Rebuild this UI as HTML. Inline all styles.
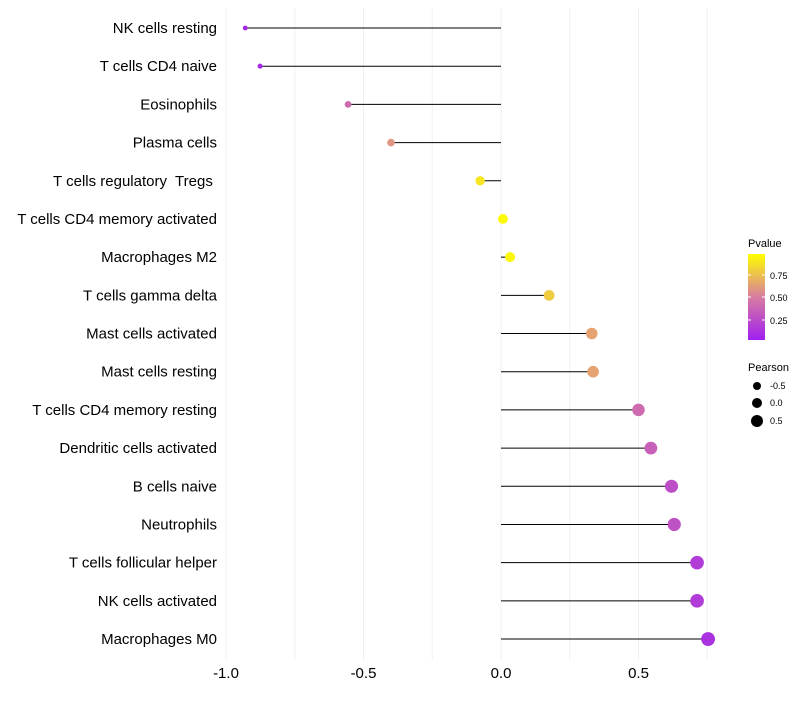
<!DOCTYPE html>
<html><head><meta charset="utf-8"><style>
body{margin:0;background:#fff;font-family:"Liberation Sans",sans-serif}
text{white-space:pre}
</style></head><body>
<svg id="chart" width="800" height="700" xmlns="http://www.w3.org/2000/svg">
<defs><linearGradient id="pg" x1="0" y1="1" x2="0" y2="0">
<stop offset="0" stop-color="#a020f0"/><stop offset="0.5" stop-color="#d87ca0"/><stop offset="1" stop-color="#ffff00"/></linearGradient></defs>
<g id="grid"></g><g id="marks"></g><g id="labels"></g>
<g font-size="10" fill="#000">
<text x="748" y="247" font-size="11">Pvalue</text>
<rect x="748" y="254" width="17" height="86" fill="url(#pg)"/>
<line x1="748" y1="275" x2="751" y2="275" stroke="#fff"/><line x1="762" y1="275" x2="765" y2="275" stroke="#fff"/>
<line x1="748" y1="297" x2="751" y2="297" stroke="#fff"/><line x1="762" y1="297" x2="765" y2="297" stroke="#fff"/>
<line x1="748" y1="320" x2="751" y2="320" stroke="#fff"/><line x1="762" y1="320" x2="765" y2="320" stroke="#fff"/>
<text x="770" y="279" font-size="9">0.75</text><text x="770" y="301" font-size="9">0.50</text><text x="770" y="324" font-size="9">0.25</text>
</g>
<g fill="#000">
<text x="748" y="371" font-size="11">Pearson</text>
<circle cx="757" cy="386" r="4"/><text x="770" y="389" font-size="9">-0.5</text>
<circle cx="757" cy="403" r="5"/><text x="770" y="406" font-size="9">0.0</text>
<circle cx="757" cy="421" r="6"/><text x="770" y="424" font-size="9">0.5</text>
</g>
</svg>
<script>
const cells=["NK cells resting","T cells CD4 naive","Eosinophils","Plasma cells","T cells regulatory  Tregs ","T cells CD4 memory activated","Macrophages M2","T cells gamma delta","Mast cells activated","Mast cells resting","T cells CD4 memory resting","Dendritic cells activated","B cells naive","Neutrophils","T cells follicular helper","NK cells activated","Macrophages M0"];
const pearson=[-0.93,-0.876,-0.556,-0.40,-0.076,0.007,0.033,0.175,0.33,0.335,0.50,0.545,0.62,0.63,0.713,0.713,0.753];
const pvalue=[0.04,0.05,0.4,0.6,0.9,0.98,0.97,0.8,0.65,0.65,0.4,0.35,0.25,0.27,0.15,0.15,0.1];
const ticks=[-1.0,-0.5,0.0,0.5];
const tickLabels=["-1.0","-0.5","0.0","0.5"];
const NS="http://www.w3.org/2000/svg";
const X=v=>501+v*275;
const Y=i=>28+i*38.19;
const R=v=>4.9+2.7*v;
function lerp(a,b,t){return a.map((c,k)=>Math.round(c+(b[k]-c)*t));}
function col(p){const A=[160,32,240],M=[216,124,160],B=[255,255,0];
 const c=p<0.5?lerp(A,M,p/0.5):lerp(M,B,(p-0.5)/0.5);return `rgb(${c.join(',')})`;}
function mk(t,a,parent){const e=document.createElementNS(NS,t);for(const k in a)e.setAttribute(k,a[k]);document.getElementById(parent).appendChild(e);return e;}
for(let v=-1;v<=0.76;v+=0.25){
 const g=mk('line',{x1:X(v),x2:X(v),y1:8,y2:660,stroke:'#f0f0f0','stroke-width':1},'grid');
 
 
}
ticks.forEach((t,i)=>{
 const e=mk('text',{x:X(t),y:678,'text-anchor':'middle','font-size':15,fill:'#000'},'labels');
 e.textContent=tickLabels[i];
 
 
});
cells.forEach((c,i)=>{
 const y=Y(i);
 const l=mk('text',{x:217,y:y+5,'text-anchor':'end','font-size':15,fill:'#000'},'labels');
 l.textContent=c;
 
 
 const s=mk('line',{x1:X(0),x2:X(pearson[i]),y1:y,y2:y,stroke:'#000','stroke-width':1},'marks');
 
 
 const d=mk('circle',{cx:X(pearson[i]),cy:y,r:R(pearson[i]),fill:col(pvalue[i])},'marks');
 
 
});
</script>
</body></html>
